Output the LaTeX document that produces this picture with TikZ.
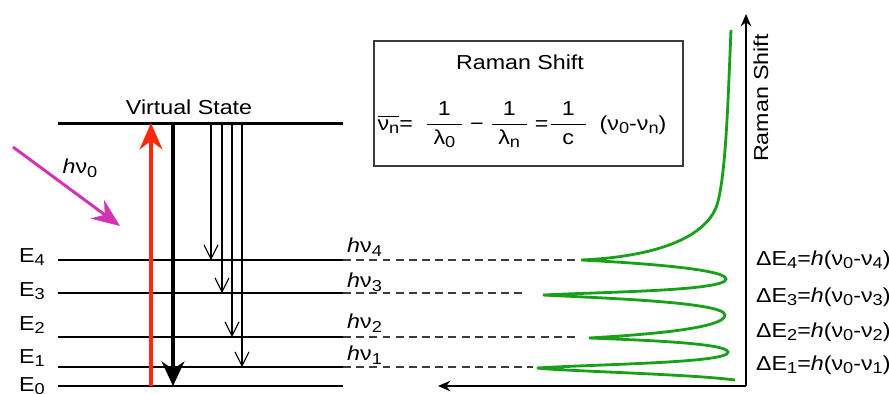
\documentclass[tikz,border=0pt]{standalone}
\usepackage{amsmath}
\usepackage{fontspec}
\setmainfont{Liberation Sans}[FakeStretch=1.15]
\usetikzlibrary{arrows.meta}
\definecolor{laserred}{RGB}{255,40,10}
\definecolor{photon}{RGB}{210,50,180}
\definecolor{spectrum}{RGB}{25,160,25}
\definecolor{dashgray}{RGB}{60,60,60}
\newcommand{\sub}[1]{\raisebox{-2pt}{\fontsize{9}{10}\selectfont #1}}
\newcommand{\hnu}[1]{\textit{h}ν\sub{#1}}
\newcommand{\dE}[1]{ΔE\sub{#1}=\textit{h}(ν\sub{0}-ν\sub{#1})}
\newcommand{\rfrac}[2]{\dfrac{\makebox[1.75em]{#1}}{\makebox[1.75em]{#2}}}

\begin{document}
\begin{tikzpicture}[x=0.02cm, y=-0.02cm, >=Stealth,
    font=\fontsize{11.5}{14}\selectfont,
    level/.style={line width=0.8pt},
    emit/.style={->, line width=0.6pt, >={Straight Barb[length=8pt,width=8pt]}},
    gap/.style={dashgray, line width=0.6pt, dash pattern=on 4.5pt off 3pt}]
    \useasboundingbox (0,0) rectangle (889,393);
    % levels
    \draw[line width=1.7pt] (58,123) coordinate (vs) -- (343,123) coordinate (vsr);
    \node (vslab) at (189,107) {Virtual State};
    \foreach \n/\y in {0/386,1/367,2/337,3/293,4/260}
        \draw[level] (58,\y) coordinate (E\n) -- (343,\y) coordinate (F\n);
    \node[anchor=west] (lab4) at (13,257) {E\sub{4}};
    \node[anchor=west] (lab3) at (13,291) {E\sub{3}};
    \node[anchor=west] (lab2) at (13,325) {E\sub{2}};
    \node[anchor=west] (lab1) at (13,358) {E\sub{1}};
    \node[anchor=west] (lab0) at (13,386) {E\sub{0}};
    % excitation and emission
    \draw[->, photon, line width=1.7pt, >={Stealth[length=16pt,width=13pt]}] (13,147) coordinate (pin) -- (120,226) coordinate (pout);
    \node (h0) at (80,168) {\hnu{0}};
    \draw[->, laserred, line width=1.8pt, >={Stealth[length=15pt,width=13pt]}] (151,0 |- E0) -- (151,0 |- vs);
    \draw[->, line width=1.9pt, >={Stealth[length=14pt,width=13pt]}] (173,0 |- vs) -- (173,0 |- E0);
    \draw[emit] (211,0 |- vs) -- (211,0 |- E4);
    \draw[emit] (222,0 |- vs) -- (222,0 |- E3);
    \draw[emit] (232,0 |- vs) -- (232,0 |- E2);
    \draw[emit] (242,0 |- vs) -- (242,0 |- E1);
    % dashed lines
    \coordinate (d4) at (578,260);
    \coordinate (d3) at (525,293);
    \coordinate (d2) at (575,337);
    \coordinate (d1) at (533,367);
    \foreach \n in {1,2,3,4}
        \draw[gap] (F\n) -- (d\n);
    \node[anchor=west] (hv4) at (341,247) {\hnu{4}};
    \node[anchor=west] (hv3) at (341,282) {\hnu{3}};
    \node[anchor=west] (hv2) at (341,323) {\hnu{2}};
    \node[anchor=west] (hv1) at (341,355) {\hnu{1}};
    % formula box
    \draw[line width=0.9pt, dashgray] (374,41) rectangle (683,166);
    \node (title) at (520,62) {Raman Shift};
    \node (fml) at (522,125) {$\overline{\text{ν\sub{n}}}\text{=}\;\;\rfrac{\text{1}}{\text{λ\sub{0}}}\;\text{−}\;\rfrac{\text{1}}{\text{λ\sub{n}}}\;\text{=}\rfrac{\text{1}}{\text{c}}\;\;\text{(ν\sub{0}-ν\sub{n})}$};
    % spectrum
    \draw[spectrum, line width=1.6pt] (735,380) .. controls (690,374) and (560,371) .. (537,368)
        .. controls (600,364) and (729,363) .. (728,352)
        .. controls (727,343) and (640,340) .. (589,338)
        .. controls (640,335) and (725,329) .. (725,315)
        .. controls (725,302) and (600,298) .. (543,295)
        .. controls (600,292) and (726,291) .. (726,279)
        .. controls (726,268) and (620,262) .. (581,260)
        .. controls (650,257) and (705,240) .. (717,205)
        .. controls (726,175) and (728,100) .. (731,30);
    % axes
    \coordinate (org) at (746,386);
    \draw[->, line width=0.8pt, >={Stealth[length=7pt,width=6pt]}] (org) -- (746,14) coordinate (ytop);
    \draw[->, line width=0.8pt, >={Stealth[length=7pt,width=6pt]}] (org) -- (438,386) coordinate (xend);
    \node[rotate=90] (axlab) at (761,98) {Raman Shift};
    \node[anchor=west] (de4) at (750,260) {\dE{4}};
    \node[anchor=west] (de3) at (750,297) {\dE{3}};
    \node[anchor=west] (de2) at (750,332) {\dE{2}};
    \node[anchor=west] (de1) at (750,365) {\dE{1}};
\end{tikzpicture}
\end{document}
